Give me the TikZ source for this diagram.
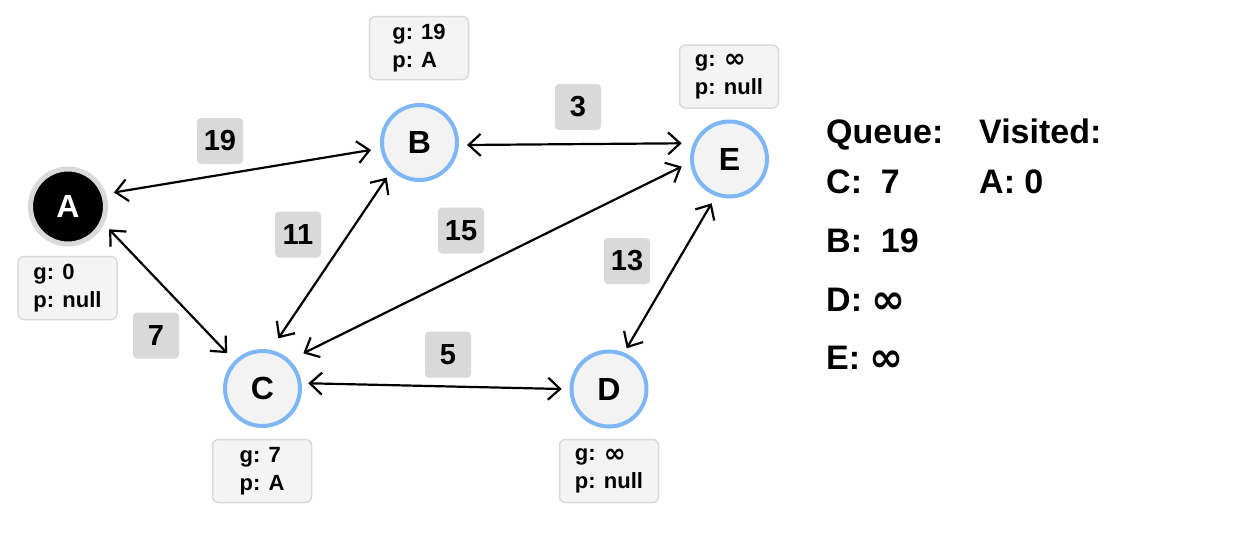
\documentclass[tikz,border=0pt]{standalone}
\usepackage{fontspec}
\usepackage{graphicx}
\setmainfont{Liberation Sans}
\newfontfamily\symfont{DejaVu Sans}
\newcommand{\infsym}{\raisebox{-0.07em}{\scalebox{1.2}{\symfont\bfseries ∞}}}
\usetikzlibrary{arrows.meta}
\definecolor{ringblue}{HTML}{7EB6F6}
\definecolor{nodefill}{HTML}{F3F3F3}
\definecolor{infofill}{HTML}{F4F4F4}
\definecolor{infoline}{HTML}{DADADA}
\definecolor{wtfill}{HTML}{D9D9D9}
\definecolor{ringgray}{HTML}{D9D9D9}
\begin{document}
\begin{tikzpicture}[x=1pt,y=1pt,
  vertex/.style={circle, draw=ringblue, line width=4pt, fill=nodefill, minimum size=75pt, inner sep=0pt,
    font=\fontsize{32}{38}\selectfont\bfseries},
  done/.style={vertex, draw=ringgray, line width=5pt, fill=black, text=white},
  info/.style={draw=infoline, line width=1.5pt, fill=infofill, rounded corners=6pt,
    minimum width=99pt, minimum height=63pt, align=left, inner sep=0pt,
    font=\fontsize{22}{28}\selectfont\bfseries},
  weight/.style={fill=wtfill, rounded corners=4pt, minimum size=46pt, inner sep=0pt,
    font=\fontsize{29}{32}\selectfont\bfseries},
  edge/.style={line width=2.2pt,
    {Straight Barb[length=12pt,width=22pt]}-{Straight Barb[length=12pt,width=22pt]}},
  listtext/.style={anchor=base west, inner sep=0pt, font=\fontsize{34}{40}\selectfont\bfseries}
]
\useasboundingbox (0,0) rectangle (1245,-554);
\fill[white] (0,0) rectangle (1245,-554);

% graph vertices
\node[done]   (A) at (68,-206.5)    {A};
\node[vertex] (B) at (419.5,-142.5) {B};
\node[vertex] (C) at (262.5,-388.5) {C};
\node[vertex] (D) at (609,-389)     {D};
\node[vertex] (E) at (729.5,-159)   {E};

% distance / parent tags
\node[info] (iA) at (67.5,-288) {g: 0\\p: null};
\node[info] (iB) at (419,-48)   {g: 19\\p: A};
\node[info] (iE) at (729,-76.5) {g: \infsym\\p: null};
\node[info] (iC) at (262,-471)  {g: 7\\p: A};
\node[info] (iD) at (609,-471)  {g: \infsym\\p: null};

% undirected edges
\draw[edge] ([shift={(17:48)}]A.center)    -- ([shift={(188.7:49)}]B.center);
\draw[edge] ([shift={(-29:47)}]A.center)   -- ([shift={(135:50)}]C.center);
\draw[edge] ([shift={(227:48)}]B.center)   -- ([shift={(72.5:52.6)}]C.center);
\draw[edge] ([shift={(-3:47.6)}]B.center)  -- ([shift={(161.8:50.3)}]E.center);
\draw[edge] ([shift={(40.8:53.9)}]C.center) -- ([shift={(189:48.4)}]E.center);
\draw[edge] ([shift={(6.5:46.1)}]C.center) -- ([shift={(180:47.3)}]D.center);
\draw[edge] ([shift={(66.5:44.4)}]D.center) -- ([shift={(248:47.7)}]E.center);

% edge weights
\node[weight] (w19) at (220,-141)   {19};
\node[weight] (w3)  at (578,-107)   {3};
\node[weight] (w11) at (298,-234.5) {11};
\node[weight] (w15) at (461,-230.5) {15};
\node[weight] (w13) at (627,-261)   {13};
\node[weight] (w7)  at (156,-335.5) {7};
\node[weight] (w5)  at (448,-354.5) {5};

% priority queue and visited set
\node[listtext] (qh) at (826,-143) {Queue:};
\node[listtext] (q1) at (826,-193) {C:\ \ 7};
\node[listtext] (q2) at (826,-252) {B:\ \ 19};
\node[listtext] (q3) at (826,-311) {D: \infsym};
\node[listtext] (q4) at (826,-369) {E: \infsym};
\node[listtext] (vh) at (979,-143) {Visited:};
\node[listtext] (v1) at (979,-193) {A: 0};
\end{tikzpicture}
\end{document}
